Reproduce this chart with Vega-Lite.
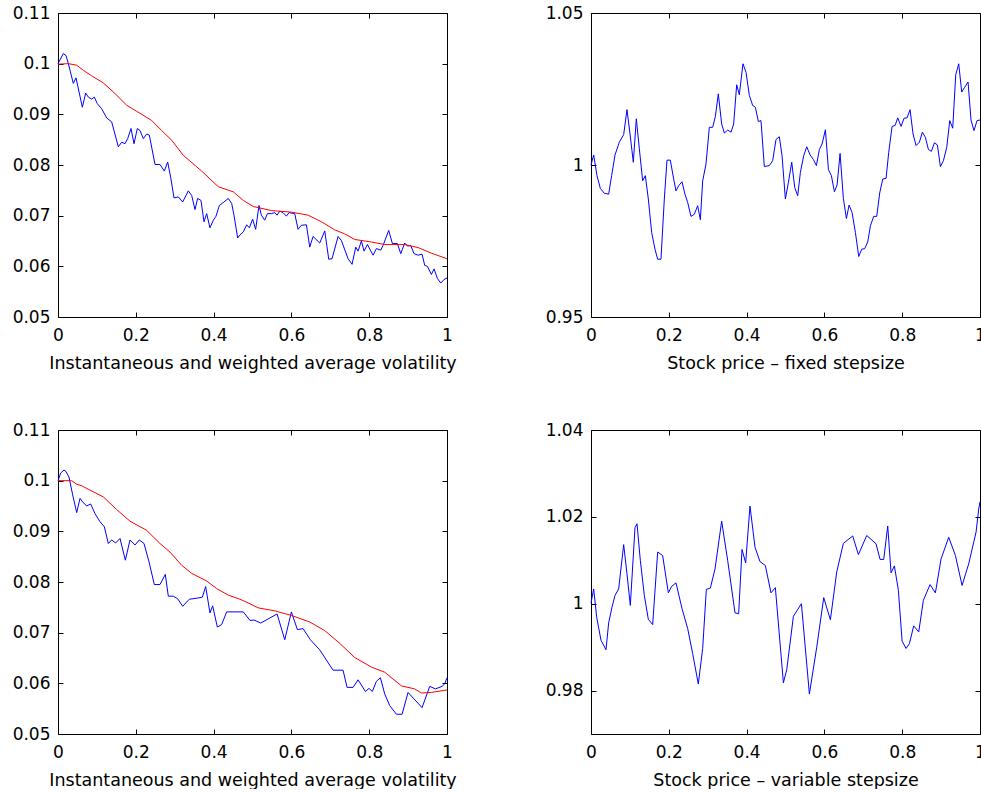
{
"$schema": "https://vega.github.io/schema/vega-lite/v6.json",
"background": "white",
"padding": {"left": 12, "top": 4, "right": 0, "bottom": 0},
"columns": 2,
"spacing": {"row": 113, "column": 144},
"bounds": "flush",
"datasets": {
"p1_inst": [{"t":0,"v":0.1},{"t":0.0137,"v":0.102},{"t":0.0206,"v":0.1016},{"t":0.0266,"v":0.1},{"t":0.0394,"v":0.0961},{"t":0.0463,"v":0.0972},{"t":0.0626,"v":0.0914},{"t":0.0711,"v":0.0942},{"t":0.078,"v":0.0934},{"t":0.0865,"v":0.093},{"t":0.0934,"v":0.0934},{"t":0.1011,"v":0.0921},{"t":0.1123,"v":0.0911},{"t":0.1251,"v":0.0893},{"t":0.138,"v":0.0885},{"t":0.1551,"v":0.0836},{"t":0.1637,"v":0.0845},{"t":0.1722,"v":0.0842},{"t":0.1791,"v":0.0852},{"t":0.1877,"v":0.0872},{"t":0.1954,"v":0.0842},{"t":0.2039,"v":0.0872},{"t":0.2108,"v":0.0868},{"t":0.2194,"v":0.0852},{"t":0.2279,"v":0.0861},{"t":0.2348,"v":0.0859},{"t":0.2494,"v":0.0801},{"t":0.2622,"v":0.0801},{"t":0.2734,"v":0.0788},{"t":0.2819,"v":0.0806},{"t":0.2896,"v":0.0776},{"t":0.2982,"v":0.0735},{"t":0.3093,"v":0.0737},{"t":0.3205,"v":0.0727},{"t":0.335,"v":0.0749},{"t":0.3436,"v":0.074},{"t":0.3522,"v":0.0712},{"t":0.359,"v":0.0734},{"t":0.3676,"v":0.073},{"t":0.3753,"v":0.0688},{"t":0.3822,"v":0.0704},{"t":0.3907,"v":0.0676},{"t":0.3993,"v":0.0691},{"t":0.4062,"v":0.0699},{"t":0.4147,"v":0.072},{"t":0.4267,"v":0.0727},{"t":0.4379,"v":0.0734},{"t":0.4465,"v":0.0724},{"t":0.4524,"v":0.0701},{"t":0.4619,"v":0.0656},{"t":0.4679,"v":0.0662},{"t":0.4764,"v":0.0668},{"t":0.485,"v":0.0682},{"t":0.4919,"v":0.0676},{"t":0.5004,"v":0.0693},{"t":0.5081,"v":0.0673},{"t":0.5167,"v":0.072},{"t":0.5229,"v":0.0701},{"t":0.5314,"v":0.0691},{"t":0.5383,"v":0.0704},{"t":0.5486,"v":0.0704},{"t":0.5572,"v":0.0706},{"t":0.5632,"v":0.0701},{"t":0.57,"v":0.0709},{"t":0.5786,"v":0.0706},{"t":0.5871,"v":0.0699},{"t":0.594,"v":0.0706},{"t":0.6086,"v":0.0704},{"t":0.6171,"v":0.0673},{"t":0.6257,"v":0.0681},{"t":0.6386,"v":0.0682},{"t":0.6471,"v":0.0638},{"t":0.6557,"v":0.0659},{"t":0.6728,"v":0.0646},{"t":0.6857,"v":0.067},{"t":0.696,"v":0.0614},{"t":0.7045,"v":0.0615},{"t":0.72,"v":0.0659},{"t":0.7285,"v":0.0651},{"t":0.7457,"v":0.0615},{"t":0.756,"v":0.0604},{"t":0.7654,"v":0.0638},{"t":0.7714,"v":0.063},{"t":0.7799,"v":0.065},{"t":0.7868,"v":0.063},{"t":0.7954,"v":0.0643},{"t":0.8099,"v":0.0622},{"t":0.8185,"v":0.0635},{"t":0.8296,"v":0.0632},{"t":0.8356,"v":0.0641},{"t":0.8502,"v":0.0671},{"t":0.8596,"v":0.0645},{"t":0.8725,"v":0.0645},{"t":0.8811,"v":0.0625},{"t":0.8913,"v":0.0646},{"t":0.8982,"v":0.064},{"t":0.9068,"v":0.0641},{"t":0.9153,"v":0.0625},{"t":0.9256,"v":0.0622},{"t":0.9359,"v":0.0624},{"t":0.9427,"v":0.0602},{"t":0.9496,"v":0.06},{"t":0.9599,"v":0.0584},{"t":0.9668,"v":0.0595},{"t":0.9753,"v":0.0576},{"t":0.9839,"v":0.0567},{"t":0.9925,"v":0.0574},{"t":1,"v":0.0577}],
"p1_avg": [{"t":0,"v":0.0999},{"t":0.0266,"v":0.1},{"t":0.048,"v":0.0997},{"t":0.0651,"v":0.0987},{"t":0.0865,"v":0.0976},{"t":0.1165,"v":0.0962},{"t":0.1465,"v":0.0941},{"t":0.1765,"v":0.0918},{"t":0.2022,"v":0.0906},{"t":0.2408,"v":0.0888},{"t":0.2665,"v":0.0868},{"t":0.2922,"v":0.0849},{"t":0.3222,"v":0.0819},{"t":0.3693,"v":0.0788},{"t":0.4122,"v":0.0757},{"t":0.4507,"v":0.0747},{"t":0.4764,"v":0.073},{"t":0.5021,"v":0.0718},{"t":0.5143,"v":0.0716},{"t":0.5486,"v":0.071},{"t":0.6,"v":0.0707},{"t":0.6428,"v":0.0701},{"t":0.6771,"v":0.0688},{"t":0.7114,"v":0.0672},{"t":0.7371,"v":0.0664},{"t":0.7628,"v":0.0653},{"t":0.8057,"v":0.0648},{"t":0.8399,"v":0.0643},{"t":0.8913,"v":0.0643},{"t":0.9256,"v":0.0637},{"t":0.9599,"v":0.0626},{"t":1,"v":0.0615}],
"p2": [{"t":0,"v":1.0},{"t":0.0069,"v":1.0033},{"t":0.0154,"v":0.9965},{"t":0.024,"v":0.9923},{"t":0.0343,"v":0.9907},{"t":0.0454,"v":0.9904},{"t":0.0531,"v":0.9965},{"t":0.0617,"v":1.0033},{"t":0.0728,"v":1.0075},{"t":0.084,"v":1.01},{"t":0.0925,"v":1.0182},{"t":0.1003,"v":1.0102},{"t":0.1088,"v":1.0009},{"t":0.1165,"v":1.0152},{"t":0.1243,"v":1.0053},{"t":0.1328,"v":0.9948},{"t":0.1397,"v":0.9965},{"t":0.1474,"v":0.9888},{"t":0.156,"v":0.9778},{"t":0.1645,"v":0.9723},{"t":0.1714,"v":0.969},{"t":0.1799,"v":0.969},{"t":0.1885,"v":0.9888},{"t":0.1954,"v":1.0016},{"t":0.2039,"v":1.0016},{"t":0.2125,"v":0.9954},{"t":0.2185,"v":0.9915},{"t":0.2254,"v":0.9932},{"t":0.2339,"v":0.9945},{"t":0.2416,"v":0.9904},{"t":0.2485,"v":0.9877},{"t":0.2571,"v":0.9831},{"t":0.2656,"v":0.9838},{"t":0.2742,"v":0.9866},{"t":0.2811,"v":0.982},{"t":0.2871,"v":0.9948},{"t":0.2956,"v":1.0003},{"t":0.3042,"v":1.0124},{"t":0.3128,"v":1.0124},{"t":0.3196,"v":1.0159},{"t":0.3273,"v":1.0234},{"t":0.3359,"v":1.0135},{"t":0.3428,"v":1.0105},{"t":0.3513,"v":1.0115},{"t":0.3599,"v":1.0108},{"t":0.3668,"v":1.0135},{"t":0.3745,"v":1.0264},{"t":0.3813,"v":1.0231},{"t":0.3907,"v":1.0333},{"t":0.3985,"v":1.0305},{"t":0.407,"v":1.0229},{"t":0.4156,"v":1.0196},{"t":0.4225,"v":1.019},{"t":0.4302,"v":1.0143},{"t":0.437,"v":1.0146},{"t":0.4456,"v":0.9995},{"t":0.4584,"v":0.9998},{"t":0.467,"v":1.0014},{"t":0.4756,"v":1.0084},{"t":0.4841,"v":1.0093},{"t":0.4911,"v":1.0031},{"t":0.4997,"v":0.9888},{"t":0.5075,"v":0.9943},{"t":0.516,"v":1.0009},{"t":0.5237,"v":0.9926},{"t":0.5314,"v":0.9899},{"t":0.5383,"v":0.9976},{"t":0.5469,"v":1.0031},{"t":0.5546,"v":1.006},{"t":0.5632,"v":1.0033},{"t":0.5717,"v":1.0018},{"t":0.5794,"v":0.9998},{"t":0.5871,"v":1.0051},{"t":0.594,"v":1.0069},{"t":0.6026,"v":1.0116},{"t":0.6103,"v":0.9985},{"t":0.618,"v":0.9965},{"t":0.6257,"v":0.9912},{"t":0.6326,"v":0.9934},{"t":0.6403,"v":1.0038},{"t":0.6488,"v":0.989},{"t":0.6566,"v":0.9824},{"t":0.6634,"v":0.9868},{"t":0.6711,"v":0.9844},{"t":0.6797,"v":0.9778},{"t":0.6883,"v":0.9699},{"t":0.696,"v":0.9723},{"t":0.7037,"v":0.9725},{"t":0.7114,"v":0.9747},{"t":0.7183,"v":0.98},{"t":0.7268,"v":0.9831},{"t":0.7345,"v":0.9831},{"t":0.7422,"v":0.9908},{"t":0.75,"v":0.9954},{"t":0.7585,"v":0.9956},{"t":0.7654,"v":1.0042},{"t":0.774,"v":1.0127},{"t":0.7817,"v":1.013},{"t":0.7885,"v":1.0155},{"t":0.7971,"v":1.0127},{"t":0.8048,"v":1.0154},{"t":0.8125,"v":1.0155},{"t":0.8202,"v":1.0182},{"t":0.8279,"v":1.0102},{"t":0.8356,"v":1.0064},{"t":0.8442,"v":1.0075},{"t":0.8519,"v":1.0108},{"t":0.8596,"v":1.0091},{"t":0.8674,"v":1.0051},{"t":0.8751,"v":1.0045},{"t":0.8828,"v":1.0073},{"t":0.8905,"v":1.0066},{"t":0.8982,"v":0.9995},{"t":0.9059,"v":1.0014},{"t":0.9145,"v":1.0058},{"t":0.9222,"v":1.0146},{"t":0.9299,"v":1.0121},{"t":0.9376,"v":1.0297},{"t":0.9453,"v":1.0333},{"t":0.953,"v":1.024},{"t":0.9608,"v":1.0256},{"t":0.9693,"v":1.0273},{"t":0.9769,"v":1.0148},{"t":0.9846,"v":1.0113},{"t":0.9923,"v":1.0146},{"t":1,"v":1.0148}],
"p3_inst": [{"t":0,"v":0.1},{"t":0.0069,"v":0.1015},{"t":0.0154,"v":0.1021},{"t":0.0206,"v":0.1018},{"t":0.0283,"v":0.1007},{"t":0.0377,"v":0.0972},{"t":0.048,"v":0.0937},{"t":0.0566,"v":0.0965},{"t":0.0634,"v":0.0958},{"t":0.0737,"v":0.095},{"t":0.084,"v":0.0954},{"t":0.0951,"v":0.0935},{"t":0.108,"v":0.0919},{"t":0.1191,"v":0.0909},{"t":0.1294,"v":0.0876},{"t":0.138,"v":0.0883},{"t":0.1482,"v":0.0877},{"t":0.1594,"v":0.0886},{"t":0.1731,"v":0.0843},{"t":0.1851,"v":0.0883},{"t":0.1979,"v":0.0873},{"t":0.2091,"v":0.0883},{"t":0.2211,"v":0.0876},{"t":0.2339,"v":0.084},{"t":0.2476,"v":0.0795},{"t":0.2622,"v":0.0795},{"t":0.2759,"v":0.0815},{"t":0.2836,"v":0.0772},{"t":0.2965,"v":0.0772},{"t":0.3076,"v":0.0767},{"t":0.3205,"v":0.0752},{"t":0.3376,"v":0.0766},{"t":0.3565,"v":0.0768},{"t":0.371,"v":0.077},{"t":0.3796,"v":0.0791},{"t":0.3907,"v":0.0739},{"t":0.3976,"v":0.0753},{"t":0.4096,"v":0.0711},{"t":0.4207,"v":0.0716},{"t":0.4336,"v":0.0741},{"t":0.4764,"v":0.0741},{"t":0.4936,"v":0.0724},{"t":0.5039,"v":0.0725},{"t":0.5212,"v":0.0719},{"t":0.54,"v":0.0727},{"t":0.5632,"v":0.0737},{"t":0.5829,"v":0.0686},{"t":0.6,"v":0.0741},{"t":0.6154,"v":0.0706},{"t":0.63,"v":0.0708},{"t":0.6488,"v":0.0686},{"t":0.6728,"v":0.0666},{"t":0.7071,"v":0.0626},{"t":0.7328,"v":0.0626},{"t":0.7431,"v":0.0592},{"t":0.7585,"v":0.0592},{"t":0.7714,"v":0.0607},{"t":0.7902,"v":0.0584},{"t":0.7996,"v":0.059},{"t":0.8082,"v":0.0584},{"t":0.8185,"v":0.0604},{"t":0.8288,"v":0.0611},{"t":0.8399,"v":0.0579},{"t":0.8528,"v":0.0556},{"t":0.8699,"v":0.0539},{"t":0.8845,"v":0.0539},{"t":0.8999,"v":0.0582},{"t":0.9359,"v":0.0552},{"t":0.9556,"v":0.0594},{"t":0.9702,"v":0.0589},{"t":0.9873,"v":0.0594},{"t":0.9942,"v":0.0599},{"t":1,"v":0.0611}],
"p3_avg": [{"t":0,"v":0.1},{"t":0.0351,"v":0.1},{"t":0.048,"v":0.0993},{"t":0.0608,"v":0.099},{"t":0.078,"v":0.0983},{"t":0.1165,"v":0.0968},{"t":0.1508,"v":0.0943},{"t":0.1851,"v":0.092},{"t":0.2279,"v":0.0902},{"t":0.2622,"v":0.0876},{"t":0.2879,"v":0.0859},{"t":0.3179,"v":0.0833},{"t":0.3436,"v":0.0817},{"t":0.3822,"v":0.0802},{"t":0.4079,"v":0.0787},{"t":0.4379,"v":0.0774},{"t":0.4679,"v":0.0766},{"t":0.4936,"v":0.0757},{"t":0.5143,"v":0.0749},{"t":0.5572,"v":0.0743},{"t":0.6,"v":0.0734},{"t":0.6471,"v":0.0721},{"t":0.6857,"v":0.0704},{"t":0.7242,"v":0.0679},{"t":0.7628,"v":0.0651},{"t":0.8057,"v":0.0632},{"t":0.8399,"v":0.0622},{"t":0.8828,"v":0.0595},{"t":0.917,"v":0.0589},{"t":0.9342,"v":0.0581},{"t":0.9599,"v":0.0582},{"t":1,"v":0.0587}],
"p4": [{"t":0,"v":1.0002},{"t":0.0069,"v":1.0034},{"t":0.0146,"v":0.9969},{"t":0.0257,"v":0.9916},{"t":0.0386,"v":0.9894},{"t":0.0454,"v":0.9956},{"t":0.054,"v":0.9992},{"t":0.0617,"v":1.0019},{"t":0.0711,"v":1.0034},{"t":0.084,"v":1.0136},{"t":0.0925,"v":1.0069},{"t":0.1011,"v":0.9996},{"t":0.1131,"v":1.0175},{"t":0.1183,"v":1.0184},{"t":0.1268,"v":1.01},{"t":0.1371,"v":1.0019},{"t":0.1474,"v":0.9964},{"t":0.1585,"v":0.9952},{"t":0.1714,"v":1.0119},{"t":0.1842,"v":1.0111},{"t":0.1988,"v":1.0025},{"t":0.2074,"v":1.004},{"t":0.2185,"v":1.0048},{"t":0.2339,"v":0.9989},{"t":0.2485,"v":0.9943},{"t":0.2614,"v":0.9885},{"t":0.2759,"v":0.9815},{"t":0.2871,"v":0.9897},{"t":0.2965,"v":1.0033},{"t":0.3068,"v":1.0036},{"t":0.3188,"v":1.008},{"t":0.3359,"v":1.019},{"t":0.3513,"v":1.01},{"t":0.3702,"v":0.9979},{"t":0.3796,"v":0.9977},{"t":0.3882,"v":1.0125},{"t":0.3976,"v":1.0094},{"t":0.4087,"v":1.0225},{"t":0.4216,"v":1.013},{"t":0.4344,"v":1.0097},{"t":0.4482,"v":1.0088},{"t":0.4627,"v":1.0025},{"t":0.4739,"v":1.0037},{"t":0.4946,"v":0.9818},{"t":0.5032,"v":0.9848},{"t":0.5203,"v":0.9971},{"t":0.5409,"v":1.0},{"t":0.5614,"v":0.9792},{"t":0.5803,"v":0.99},{"t":0.5983,"v":1.0014},{"t":0.6154,"v":0.9963},{"t":0.6317,"v":1.0073},{"t":0.6488,"v":1.0139},{"t":0.6728,"v":1.0156},{"t":0.6874,"v":1.0113},{"t":0.7088,"v":1.0157},{"t":0.7328,"v":1.0138},{"t":0.7431,"v":1.0102},{"t":0.7525,"v":1.0102},{"t":0.7628,"v":1.0179},{"t":0.7714,"v":1.0071},{"t":0.7799,"v":1.0087},{"t":0.7902,"v":1.0031},{"t":0.7997,"v":0.9914},{"t":0.8099,"v":0.9897},{"t":0.8185,"v":0.9908},{"t":0.8296,"v":0.9949},{"t":0.8425,"v":0.9935},{"t":0.8545,"v":1.0008},{"t":0.8716,"v":1.0044},{"t":0.8853,"v":1.0025},{"t":0.8999,"v":1.0103},{"t":0.9196,"v":1.0153},{"t":0.9368,"v":1.0111},{"t":0.9539,"v":1.0042},{"t":0.971,"v":1.0092},{"t":0.9899,"v":1.0165},{"t":0.9967,"v":1.0218},{"t":1,"v":1.0235}]
},
"concat": [
{
"width": 389, "height": 304,
"layer": [
{"data": {"name": "p1_inst"}, "mark": {"type": "line", "color": "#0000ff", "strokeWidth": 1},
 "encoding": {
  "x": {"field": "t", "type": "quantitative", "scale": {"domain": [0, 1], "nice": false, "zero": false}, "axis": {"orient": "bottom", "values": [0, 0.2, 0.4, 0.6, 0.8, 1], "format": "~g", "title": "Instantaneous and weighted average volatility"}},
  "y": {"field": "v", "type": "quantitative", "scale": {"domain": [0.05, 0.11], "nice": false, "zero": false}, "axis": {"orient": "left", "values": [0.05, 0.06, 0.07, 0.08, 0.09, 0.1, 0.11], "format": "~g", "title": null}}}},
{"data": {"name": "p1_avg"}, "mark": {"type": "line", "color": "#ff0000", "strokeWidth": 1},
 "encoding": {
  "x": {"field": "t", "type": "quantitative", "axis": {"orient": "top", "values": [0, 0.2, 0.4, 0.6, 0.8, 1], "labels": false, "title": null}},
  "y": {"field": "v", "type": "quantitative", "axis": {"orient": "right", "values": [0.05, 0.06, 0.07, 0.08, 0.09, 0.1, 0.11], "labels": false, "title": null}}}}
],
"resolve": {"axis": {"x": "independent", "y": "independent"}}
},
{
"width": 389, "height": 304,
"layer": [
{"data": {"name": "p2"}, "mark": {"type": "line", "color": "#0000ff", "strokeWidth": 1},
 "encoding": {
  "x": {"field": "t", "type": "quantitative", "scale": {"domain": [0, 1], "nice": false, "zero": false}, "axis": {"orient": "bottom", "values": [0, 0.2, 0.4, 0.6, 0.8, 1], "format": "~g", "title": "Stock price \u2013 fixed stepsize"}},
  "y": {"field": "v", "type": "quantitative", "scale": {"domain": [0.95, 1.05], "nice": false, "zero": false}, "axis": {"orient": "left", "values": [0.95, 1, 1.05], "format": "~g", "title": null}}}},
{"data": {"name": "p2"}, "mark": {"type": "line", "color": "#0000ff", "strokeWidth": 1, "opacity": 0},
 "encoding": {
  "x": {"field": "t", "type": "quantitative", "axis": {"orient": "top", "values": [0, 0.2, 0.4, 0.6, 0.8, 1], "labels": false, "title": null}},
  "y": {"field": "v", "type": "quantitative", "axis": {"orient": "right", "values": [0.95, 1, 1.05], "labels": false, "title": null}}}}
],
"resolve": {"axis": {"x": "independent", "y": "independent"}}
},
{
"width": 389, "height": 304,
"layer": [
{"data": {"name": "p3_inst"}, "mark": {"type": "line", "color": "#0000ff", "strokeWidth": 1},
 "encoding": {
  "x": {"field": "t", "type": "quantitative", "scale": {"domain": [0, 1], "nice": false, "zero": false}, "axis": {"orient": "bottom", "values": [0, 0.2, 0.4, 0.6, 0.8, 1], "format": "~g", "title": "Instantaneous and weighted average volatility"}},
  "y": {"field": "v", "type": "quantitative", "scale": {"domain": [0.05, 0.11], "nice": false, "zero": false}, "axis": {"orient": "left", "values": [0.05, 0.06, 0.07, 0.08, 0.09, 0.1, 0.11], "format": "~g", "title": null}}}},
{"data": {"name": "p3_avg"}, "mark": {"type": "line", "color": "#ff0000", "strokeWidth": 1},
 "encoding": {
  "x": {"field": "t", "type": "quantitative", "axis": {"orient": "top", "values": [0, 0.2, 0.4, 0.6, 0.8, 1], "labels": false, "title": null}},
  "y": {"field": "v", "type": "quantitative", "axis": {"orient": "right", "values": [0.05, 0.06, 0.07, 0.08, 0.09, 0.1, 0.11], "labels": false, "title": null}}}}
],
"resolve": {"axis": {"x": "independent", "y": "independent"}}
},
{
"width": 389, "height": 304,
"layer": [
{"data": {"name": "p4"}, "mark": {"type": "line", "color": "#0000ff", "strokeWidth": 1},
 "encoding": {
  "x": {"field": "t", "type": "quantitative", "scale": {"domain": [0, 1], "nice": false, "zero": false}, "axis": {"orient": "bottom", "values": [0, 0.2, 0.4, 0.6, 0.8, 1], "format": "~g", "title": "Stock price \u2013 variable stepsize"}},
  "y": {"field": "v", "type": "quantitative", "scale": {"domain": [0.97, 1.04], "nice": false, "zero": false}, "axis": {"orient": "left", "values": [0.98, 1, 1.02, 1.04], "format": "~g", "title": null}}}},
{"data": {"name": "p4"}, "mark": {"type": "line", "color": "#0000ff", "strokeWidth": 1, "opacity": 0},
 "encoding": {
  "x": {"field": "t", "type": "quantitative", "axis": {"orient": "top", "values": [0, 0.2, 0.4, 0.6, 0.8, 1], "labels": false, "title": null}},
  "y": {"field": "v", "type": "quantitative", "axis": {"orient": "right", "values": [0.98, 1, 1.02, 1.04], "labels": false, "title": null}}}}
],
"resolve": {"axis": {"x": "independent", "y": "independent"}}
}
],
"config": {
"view": {"stroke": null},
"font": "DejaVu Sans",
"axis": {"grid": false, "domainColor": "#000000", "domainWidth": 1, "tickColor": "#000000", "tickWidth": 1, "tickSize": -5, "labelFont": "DejaVu Sans", "labelFontSize": 17, "labelColor": "#000000", "labelFlush": false, "labelOverlap": false, "titleFont": "DejaVu Sans", "titleFontSize": 17.5, "titleFontWeight": "normal", "titleColor": "#000000", "titlePadding": 11},
"axisX": {"labelPadding": 15},
"axisY": {"labelPadding": 13}
}
}
